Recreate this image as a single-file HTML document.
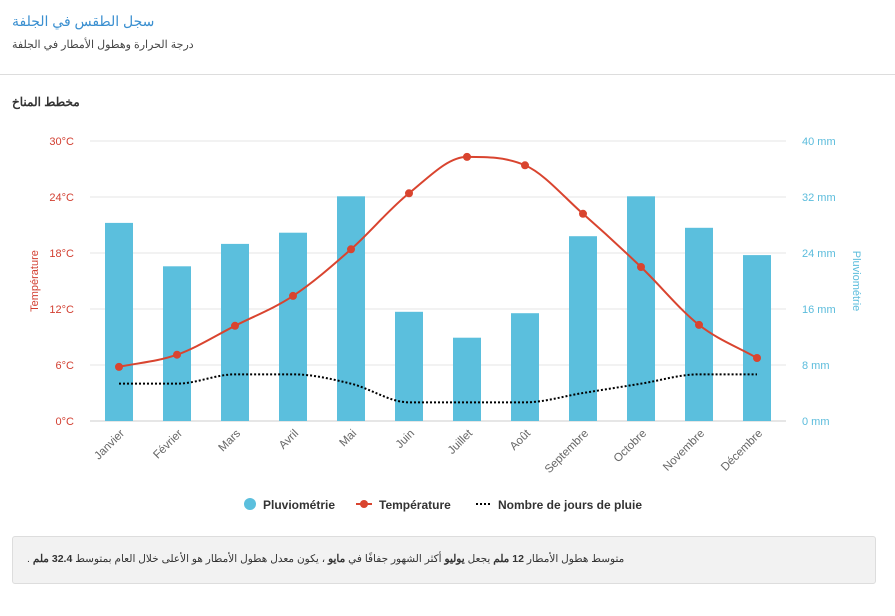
<!DOCTYPE html>
<html><head><meta charset="utf-8">
<style>
body{margin:0;width:895px;height:616px;background:#fff;font-family:"Liberation Sans","Noto Sans CJK SC",sans-serif;overflow:hidden;position:relative}
.t{position:absolute;left:12px;direction:rtl;unicode-bidi:plaintext}
#title{top:13px;font-size:14px;color:#3a8fd0}
#sub{top:38px;font-size:11px;color:#444}
#hr{position:absolute;left:0;top:74px;width:895px;height:1px;background:#ddd}
#ct{top:95px;font-size:12px;font-weight:bold;color:#333}
#note{position:absolute;left:12px;top:536px;width:864px;height:48px;background:#f2f2f2;border:1px solid #ddd;border-radius:3px;box-sizing:border-box}
#note span{position:absolute;left:14px;top:16px;font-size:10.5px;color:#333;direction:rtl;unicode-bidi:plaintext}
svg{position:absolute;left:0;top:0}
</style></head><body>
<div class="t" id="title">سجل الطقس في الجلفة</div>
<div class="t" id="sub">درجة الحرارة وهطول الأمطار في الجلفة</div>
<div id="hr"></div>
<div class="t" id="ct">مخطط المناخ</div>
<svg id="chart" width="895" height="530"></svg>
<div id="note"><span>متوسط هطول الأمطار <b>12 ملم</b> يجعل <b>يوليو</b> أكثر الشهور جفافًا في <b>مايو</b> ، يكون معدل هطول الأمطار هو الأعلى خلال العام بمتوسط <b>32.4 ملم</b> .</span></div>
<script>
const months=["Janvier","Février","Mars","Avril","Mai","Juin","Juillet","Août","Septembre","Octobre","Novembre","Décembre"];
const rain=[28.3,22.1,25.3,26.9,32.1,15.6,11.9,15.4,26.4,32.1,27.6,23.7];
const temp=[5.8,7.1,10.2,13.4,18.4,24.4,28.3,27.4,22.2,16.5,10.3,6.75];
const rainDays=[4,4,5,5,4,2,2,2,3,4,5,5];
const tempTicks=[0,6,12,18,24,30];
const rainTicks=[0,8,16,24,32,40];
const svg=document.getElementById('chart');
const NS='http://www.w3.org/2000/svg';
const X0=90,STEP=58,Y0=421,H=280;
const xc=i=>X0+STEP*(i+0.5);
const yT=v=>Y0-v/30*H;
const yR=v=>Y0-v/40*H;
function mk(tag,at,parent){const e=document.createElementNS(NS,tag);for(const k in at)e.setAttribute(k,at[k]);(parent||svg).appendChild(e);return e;}
tempTicks.forEach((t,i)=>{
 const g=mk('line',{x1:X0,x2:786,y1:yT(t),y2:yT(t),stroke:i==0?'#ccc':'#e6e6e6'});
 
 
 const a=mk('text',{x:74,y:yT(t)+4,'text-anchor':'end','font-size':11,fill:'#d23f31'});a.textContent=t+'°C';
 
 
});
rainTicks.forEach(t=>{
 const a=mk('text',{x:802,y:yR(t)+4,'font-size':11,fill:'#5bbcdc'});a.textContent=t+' mm';
 
 
});
let l=mk('text',{x:0,y:0,transform:'translate(38,281) rotate(-90)','text-anchor':'middle','font-size':11,fill:'#d23f31'});l.textContent='Température';


l=mk('text',{x:0,y:0,transform:'translate(853,281) rotate(90)','text-anchor':'middle','font-size':11,fill:'#5bbcdc'});l.textContent='Pluviométrie';


rain.forEach((v,i)=>{
 const b=mk('rect',{x:xc(i)-14,y:yR(v),width:28,height:Y0-yR(v),fill:'#5bbfdd'});
 
 
});
months.forEach((m,i)=>{
 const t=mk('text',{x:0,y:0,transform:`translate(${xc(i)+6},${434}) rotate(-45)`,'text-anchor':'end','font-size':11.5,fill:'#666'});t.textContent=m;
 
 
});
function mono(pts){const n=pts.length,h=STEP;const d=[];for(let i=0;i<n-1;i++)d.push((pts[i+1][1]-pts[i][1])/h);
 const m=[d[0]];for(let i=1;i<n-1;i++){m.push(d[i-1]*d[i]<=0?0:(d[i-1]+d[i])/2);}m.push(d[n-2]);
 for(let i=0;i<n-1;i++){if(d[i]===0){m[i]=0;m[i+1]=0;continue;}const a=m[i]/d[i],b=m[i+1]/d[i],s=a*a+b*b;if(s>9){const t=3/Math.sqrt(s);m[i]=t*a*d[i];m[i+1]=t*b*d[i];}}
 let s='M'+pts[0][0]+','+pts[0][1];
 for(let i=0;i<n-1;i++){const p=pts[i],q=pts[i+1];s+=`C${p[0]+h/3},${p[1]+m[i]*h/3} ${q[0]-h/3},${q[1]-m[i+1]*h/3} ${q[0]},${q[1]}`;}return s;}
const dp=mk('path',{d:mono(rainDays.map((v,i)=>[xc(i),yT(v)])),fill:'none',stroke:'#000','stroke-width':2,'stroke-dasharray':'2,2'});


const tp=mk('path',{d:mono(temp.map((v,i)=>[xc(i),yT(v)])),fill:'none',stroke:'#d9442f','stroke-width':2});


temp.forEach((v,i)=>{const c=mk('circle',{cx:xc(i),cy:yT(v),r:4,fill:'#d9442f'});
 
 });
let g=mk('g',{});
mk('circle',{cx:250,cy:504,r:6,fill:'#5bbfdd'},g);let tx=mk('text',{x:263,y:509,'font-size':12,'font-weight':'bold',fill:'#333'},g);tx.textContent='Pluviométrie';
g=mk('g',{});
mk('line',{x1:356,x2:372,y1:504,y2:504,stroke:'#d9442f','stroke-width':2},g);mk('circle',{cx:364,cy:504,r:4,fill:'#d9442f'},g);
tx=mk('text',{x:379,y:509,'font-size':12,'font-weight':'bold',fill:'#333'},g);tx.textContent='Température';
g=mk('g',{});
mk('line',{x1:476,x2:492,y1:504,y2:504,stroke:'#000','stroke-width':2,'stroke-dasharray':'2,2'},g);
tx=mk('text',{x:498,y:509,'font-size':12,'font-weight':'bold',fill:'#333'},g);tx.textContent='Nombre de jours de pluie';
</script>
</body></html>
